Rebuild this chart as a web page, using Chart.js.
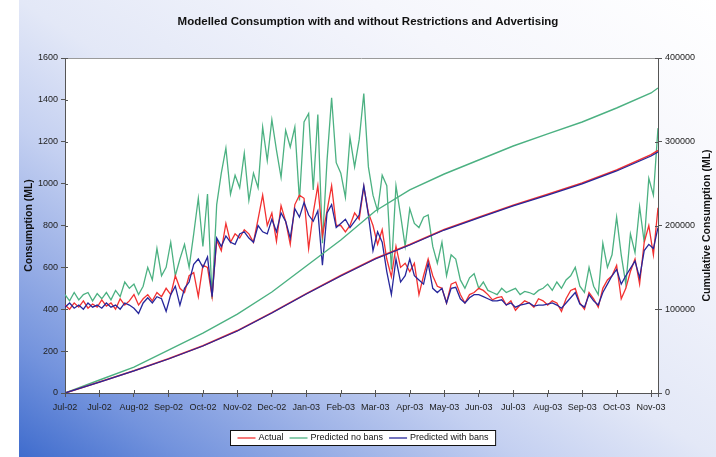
<!DOCTYPE html>
<html>
<head>
<meta charset="utf-8">
<script src="https://cdn.jsdelivr.net/npm/chart.js@4.4.0/dist/chart.umd.min.js"></script>
<style>
  html, body { margin: 0; padding: 0; background: #ffffff; }
  #wrap { position: relative; width: 716px; height: 457px; overflow: hidden; }
  #bg {
    position: absolute; left: 19px; top: 0; width: 697px; height: 457px;
    background: linear-gradient(to top right, #3f6ccd 0%, #7393dd 12%, #9db2e7 24%, #c4d0f1 36%, #e3e8f7 50%, #f5f6fc 75%, #ffffff 100%);
  }
  canvas { position: absolute; left: 0; top: 0; }
</style>
</head>
<body>
<div id="wrap">
  <div id="bg"></div>
  <canvas id="chart" width="716" height="457"></canvas>
</div>
<script>
// Daily consumption (ML), sampled every 4 days from 1 Jul 2002
const dayIndex = [0,4,8,12,16,20,24,28,32,36,40,44,48,52,56,60,64,68,72,76,80,84,88,92,96,100,104,108,112,116,120,124,128,132,136,140,144,148,152,156,160,164,168,172,176,180,184,188,192,196,200,204,208,212,216,220,224,228,232,236,240,244,248,252,256,260,264,268,272,276,280,284,288,292,296,300,304,308,312,316,320,324,328,332,336,340,344,348,352,356,360,364,368,372,376,380,384,388,392,396,400,404,408,412,416,420,424,428,432,436,440,444,448,452,456,460,464,468,472,476,480,484,488,492,496,500,504,508,512,516];

const actual = [420,400,430,410,440,405,425,410,445,415,430,400,450,420,440,470,420,450,470,440,
  480,460,500,470,560,500,480,560,575,460,610,600,460,730,680,810,720,760,740,780,
  760,720,830,945,800,860,725,895,820,710,900,945,930,690,860,990,750,870,990,800,
  800,770,800,860,830,985,860,800,710,780,640,555,700,600,620,580,620,470,560,640,
  560,510,500,430,520,530,470,430,470,480,500,490,470,445,455,460,420,440,395,420,
  440,430,410,450,440,420,440,430,390,450,490,500,430,400,480,450,410,500,540,560,
  610,450,500,580,640,520,720,800,660,885];

const noBans = [470,440,480,445,470,480,440,475,450,480,445,490,460,530,500,520,470,510,600,540,
  690,560,600,720,560,640,710,600,760,930,700,950,450,900,1050,1170,950,1040,980,1145,
  920,1050,980,1270,1110,1305,1160,1030,1255,1175,1270,920,1295,1335,970,1330,715,1110,1410,1100,
  1050,935,1220,1080,1210,1430,1080,945,870,1040,990,590,990,850,700,880,810,790,840,850,
  700,620,720,560,660,640,540,500,550,570,500,530,490,480,470,500,480,490,500,470,
  485,480,470,490,500,520,490,530,500,540,560,600,510,480,600,510,470,715,600,660,
  840,660,520,760,670,890,720,1025,945,1265];

const withBans = [410,430,405,420,400,430,410,420,405,430,410,420,400,430,420,405,380,430,455,430,
  460,450,390,470,510,420,500,530,615,640,600,650,460,740,700,750,720,710,760,770,
  740,720,800,770,760,830,770,860,820,740,880,840,910,850,820,870,610,860,900,790,
  810,830,790,820,850,990,850,680,770,720,580,470,640,530,560,640,560,540,520,620,
  500,480,500,430,500,505,450,430,455,470,470,460,450,440,440,445,420,430,410,420,
  425,430,415,420,420,425,430,420,405,430,455,480,425,410,470,440,420,480,520,560,
  590,520,560,595,630,550,680,710,690,790];

// Running totals (ML), every 30 days
const cumDays = [0,30,60,90,120,150,180,210,240,270,300,330,360,390,420,450,480,510,516];
const cumActual = [0,13200,26500,40900,56500,74500,96000,118700,140300,160600,177400,195300,209800,224200,237400,250700,266400,284600,289600];
const cumNoBans = [0,15500,31000,51300,71600,94300,120600,151600,182700,217300,242400,261500,278200,294900,309300,323600,340300,358200,364200];
const cumWithBans = [0,13100,26300,40600,56100,74000,95500,118200,139700,160000,176700,194600,209000,223300,236400,249600,265100,283000,287800];

// Date axis
const tickDays = [0,30,60,90,120,150,180,210,240,270,300,330,360,390,420,450,480,510,516];
const tickLabels = ['Jul-02','Jul-02','Aug-02','Sep-02','Oct-02','Nov-02','Dec-02','Jan-03','Feb-03','Mar-03','Apr-03','May-03','Jun-03','Jul-03','Aug-03','Sep-03','Oct-03','Nov-03'];

const titleText = 'Modelled Consumption with and without Restrictions and Advertising';
const leftTitle = 'Consumption (ML)';
const rightTitle = 'Cumulative Consumption (ML)';

const RED = '#f23131';
const GREEN = '#4cb182';
const BLUE = '#27279b';
const FONT = '"Liberation Sans", Arial, sans-serif';

const pts = (xs, ys) => xs.map((x, i) => ({ x: x, y: ys[i] }));

const legendItems = [
  { label: 'Actual', color: RED },
  { label: 'Predicted no bans', color: GREEN },
  { label: 'Predicted with bans', color: BLUE }
];

const decor = {
  id: 'decor',
  beforeDraw(chart) {
    const { ctx, chartArea: a } = chart;
    ctx.save();
    ctx.fillStyle = '#ffffff';
    ctx.fillRect(a.left, a.top, a.right - a.left, a.bottom - a.top);
    ctx.restore();
  },
  afterDraw(chart) {
    const { ctx, chartArea: a, scales } = chart;
    ctx.save();
    // frame top edge
    ctx.strokeStyle = '#9a9a9a';
    ctx.lineWidth = 1;
    ctx.beginPath();
    ctx.moveTo(a.left, a.top + 0.5);
    ctx.lineTo(a.right, a.top + 0.5);
    ctx.stroke();

    // tick stubs on the inside of the axes
    ctx.strokeStyle = '#555555';
    ctx.beginPath();
    scales.y.ticks.forEach(t => {
      const y = Math.round(scales.y.getPixelForValue(t.value)) + 0.5;
      ctx.moveTo(a.left, y); ctx.lineTo(a.left + 3, y);
    });
    scales.y2.ticks.forEach(t => {
      const y = Math.round(scales.y2.getPixelForValue(t.value)) + 0.5;
      ctx.moveTo(a.right, y); ctx.lineTo(a.right - 3, y);
    });
    scales.x.ticks.forEach(t => {
      const x = Math.round(scales.x.getPixelForValue(t.value)) + 0.5;
      ctx.moveTo(x, a.bottom); ctx.lineTo(x, a.bottom - 3);
    });
    ctx.stroke();

    // chart title
    ctx.fillStyle = '#111111';
    ctx.textAlign = 'center';
    ctx.textBaseline = 'middle';
    ctx.font = 'bold 11.5px ' + FONT;
    ctx.fillText(titleText, 368, 22);

    // axis titles
    const midY = (a.top + a.bottom) / 2;
    ctx.font = 'bold 10.5px ' + FONT;
    ctx.save();
    ctx.translate(29, midY);
    ctx.rotate(-Math.PI / 2);
    ctx.fillText(leftTitle, 0, 0);
    ctx.restore();
    ctx.save();
    ctx.translate(707, midY);
    ctx.rotate(-Math.PI / 2);
    ctx.fillText(rightTitle, 0, 0);
    ctx.restore();

    // legend box
    ctx.font = '9px ' + FONT;
    const sample = 18, gapIn = 3, gapOut = 6, padX = 7;
    let w = padX * 2;
    legendItems.forEach((it, i) => {
      w += sample + gapIn + ctx.measureText(it.label).width;
      if (i < legendItems.length - 1) w += gapOut;
    });
    const cx = 363, top = 430, h = 15;
    let x = Math.round(cx - w / 2) + 0.5;
    ctx.fillStyle = '#ffffff';
    ctx.fillRect(x, top + 0.5, w, h);
    ctx.strokeStyle = '#111111';
    ctx.lineWidth = 1;
    ctx.strokeRect(x, top + 0.5, w, h);
    let px = x + padX;
    const ly = top + h / 2 + 0.5;
    ctx.textAlign = 'left';
    legendItems.forEach(it => {
      ctx.strokeStyle = it.color;
      ctx.lineWidth = 1.3;
      ctx.beginPath();
      ctx.moveTo(px, ly); ctx.lineTo(px + sample, ly);
      ctx.stroke();
      px += sample + gapIn;
      ctx.fillStyle = '#111111';
      ctx.fillText(it.label, px, ly);
      px += ctx.measureText(it.label).width + gapOut;
    });
    ctx.restore();
  }
};

const lineDs = (label, data, color, axis, order, width) => ({
  label, data, borderColor: color, backgroundColor: color, yAxisID: axis,
  borderWidth: width, pointRadius: 0, tension: 0, fill: false, order
});

new Chart(document.getElementById('chart'), {
  type: 'line',
  data: {
    datasets: [
      lineDs('Predicted no bans', pts(dayIndex, noBans), GREEN, 'y', 5, 1.3),
      lineDs('Actual', pts(dayIndex, actual), RED, 'y', 4, 1.3),
      lineDs('Predicted with bans', pts(dayIndex, withBans), BLUE, 'y', 3, 1.3),
      lineDs('Cumulative no bans', pts(cumDays, cumNoBans), GREEN, 'y2', 2, 1.4),
      lineDs('Cumulative actual', pts(cumDays, cumActual), RED, 'y2', 1, 1.6),
      lineDs('Cumulative with bans', pts(cumDays, cumWithBans), BLUE, 'y2', 0, 1.3)
    ]
  },
  options: {
    responsive: false,
    animation: false,
    events: [],
    layout: { padding: { top: 58, left: 0, right: 0, bottom: 0 } },
    plugins: { legend: { display: false }, title: { display: false }, tooltip: { enabled: false } },
    scales: {
      x: {
        type: 'linear', min: 0, max: 516,
        afterBuildTicks: s => { s.ticks = tickDays.map(v => ({ value: v })); },
        afterFit: s => { s.height = 64; },
        grid: { drawOnChartArea: false, drawTicks: true, tickLength: 4, color: '#555555' },
        border: { display: true, color: '#555555', width: 1 },
        ticks: {
          autoSkip: false, maxRotation: 0, minRotation: 0, padding: 5,
          color: '#222222', font: { family: FONT, size: 9 },
          callback: (v, i) => tickLabels[i] !== undefined ? tickLabels[i] : ''
        }
      },
      y: {
        position: 'left', min: 0, max: 1600,
        afterFit: s => { s.width = 65; },
        grid: { drawOnChartArea: false, drawTicks: true, tickLength: 4, color: '#555555' },
        border: { display: true, color: '#555555', width: 1 },
        ticks: { stepSize: 200, padding: 3, color: '#222222', font: { family: FONT, size: 9 },
          callback: v => String(v) }
      },
      y2: {
        position: 'right', min: 0, max: 400000,
        afterFit: s => { s.width = 58; },
        grid: { drawOnChartArea: false, drawTicks: true, tickLength: 4, color: '#555555' },
        border: { display: true, color: '#555555', width: 1 },
        ticks: { stepSize: 100000, padding: 3, color: '#222222', font: { family: FONT, size: 9 },
          callback: v => String(v) }
      }
    }
  },
  plugins: [decor]
});
</script>
</body>
</html>
